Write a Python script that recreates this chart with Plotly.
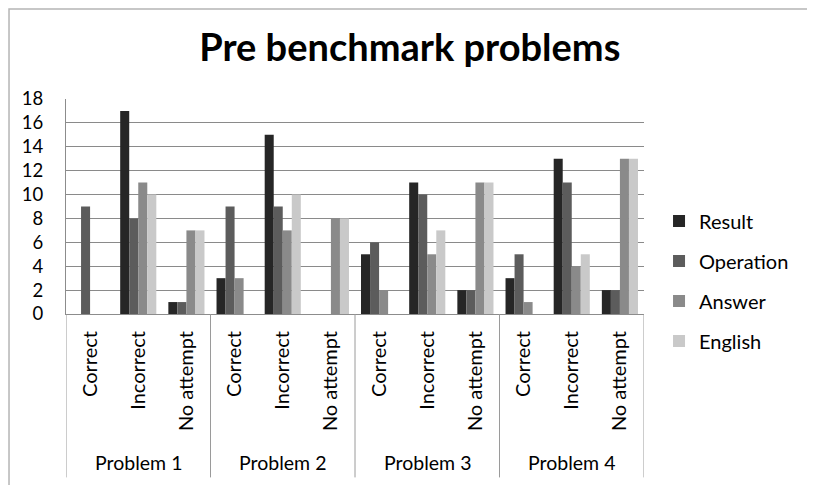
import plotly.graph_objects as go

problems = ["Problem 1", "Problem 2", "Problem 3", "Problem 4"]
outcomes = ["Correct", "Incorrect", "No attempt"]
series_names = ["Result", "Operation", "Answer", "English"]

result    = [0, 17, 1,  3, 15, 0,  5, 11, 2,  3, 13, 2]
operation = [9, 8, 1,   9, 9, 0,   6, 10, 2,  5, 11, 2]
answer    = [0, 11, 7,  3, 7, 8,   2, 5, 11,  1, 4, 13]
english   = [0, 10, 7,  0, 10, 8,  0, 7, 11,  0, 5, 13]

y_ticks = list(range(0, 19, 2))

colors = ["#262626", "#5c5c5c", "#8a8a8a", "#c9c9c9"]
FONT = "Lato"

n = len(problems) * len(outcomes)
xs = list(range(n))
ticktext = [o for _ in problems for o in outcomes]

fig = go.Figure()
for name, vals, c in zip(series_names, [result, operation, answer, english], colors):
    fig.add_trace(go.Bar(x=xs, y=vals, name=name, marker_color=c,
                         marker_line_width=0, legendgroup=name))

# divider lines between problem groups
for i in range(len(problems) + 1):
    xpos = i * len(outcomes) - 0.5
    fig.add_shape(type="line", xref="x", yref="paper", x0=xpos, x1=xpos,
                  y0=0, y1=-0.76, line=dict(color="#9a9a9a", width=1))

# group labels
for i, p in enumerate(problems):
    fig.add_annotation(x=i * len(outcomes) + 1, y=0, xref="x", yref="paper",
                       yanchor="middle", yshift=-148, text=p, showarrow=False,
                       font=dict(family=FONT, size=19.5, color="#000"))

# outer chart border
fig.add_shape(type="rect", xref="paper", yref="paper",
              x0=-0.0986, x1=1.2907, y0=-0.9, y1=1.4186,
              line=dict(color="#b5b5b5", width=1.5), fillcolor="rgba(0,0,0,0)")

fig.update_layout(
    width=815, height=485,
    margin=dict(l=58, r=179, t=91, b=179),
    paper_bgcolor="white", plot_bgcolor="white",
    barmode="group", bargap=0.25, bargroupgap=0,
    font=dict(family=FONT, color="#000"),
    title=dict(text="<b>Pre benchmark problems</b>", x=0.493, xref="container",
               y=1 - 40 / 485, yref="container", yanchor="middle", xanchor="center",
               font=dict(family=FONT, size=38, color="#000")),
    legend=dict(x=1.026, xanchor="left", y=0.153, yanchor="middle",
                font=dict(family=FONT, size=20, color="#000"),
                tracegroupgap=11, itemwidth=30, bgcolor="rgba(0,0,0,0)"),
    showlegend=True,
)
fig.update_xaxes(range=[-0.5, n - 0.5], tickmode="array", tickvals=xs, ticktext=ticktext,
                 tickangle=-90, tickfont=dict(family=FONT, size=20, color="#000"),
                 showline=True, linecolor="#8c8c8c", linewidth=1, showgrid=False,
                 ticks="", ticklabelstandoff=8, zeroline=False)
fig.update_yaxes(range=[0, 18], tickmode="array", tickvals=y_ticks,
                 tickfont=dict(family=FONT, size=18.5, color="#000"),
                 showline=True, linecolor="#8c8c8c", linewidth=1,
                 showgrid=True, gridcolor="#8a8a8a", gridwidth=1,
                 zeroline=False, ticks="", ticklabelstandoff=18)

fig.write_html("out.html")
